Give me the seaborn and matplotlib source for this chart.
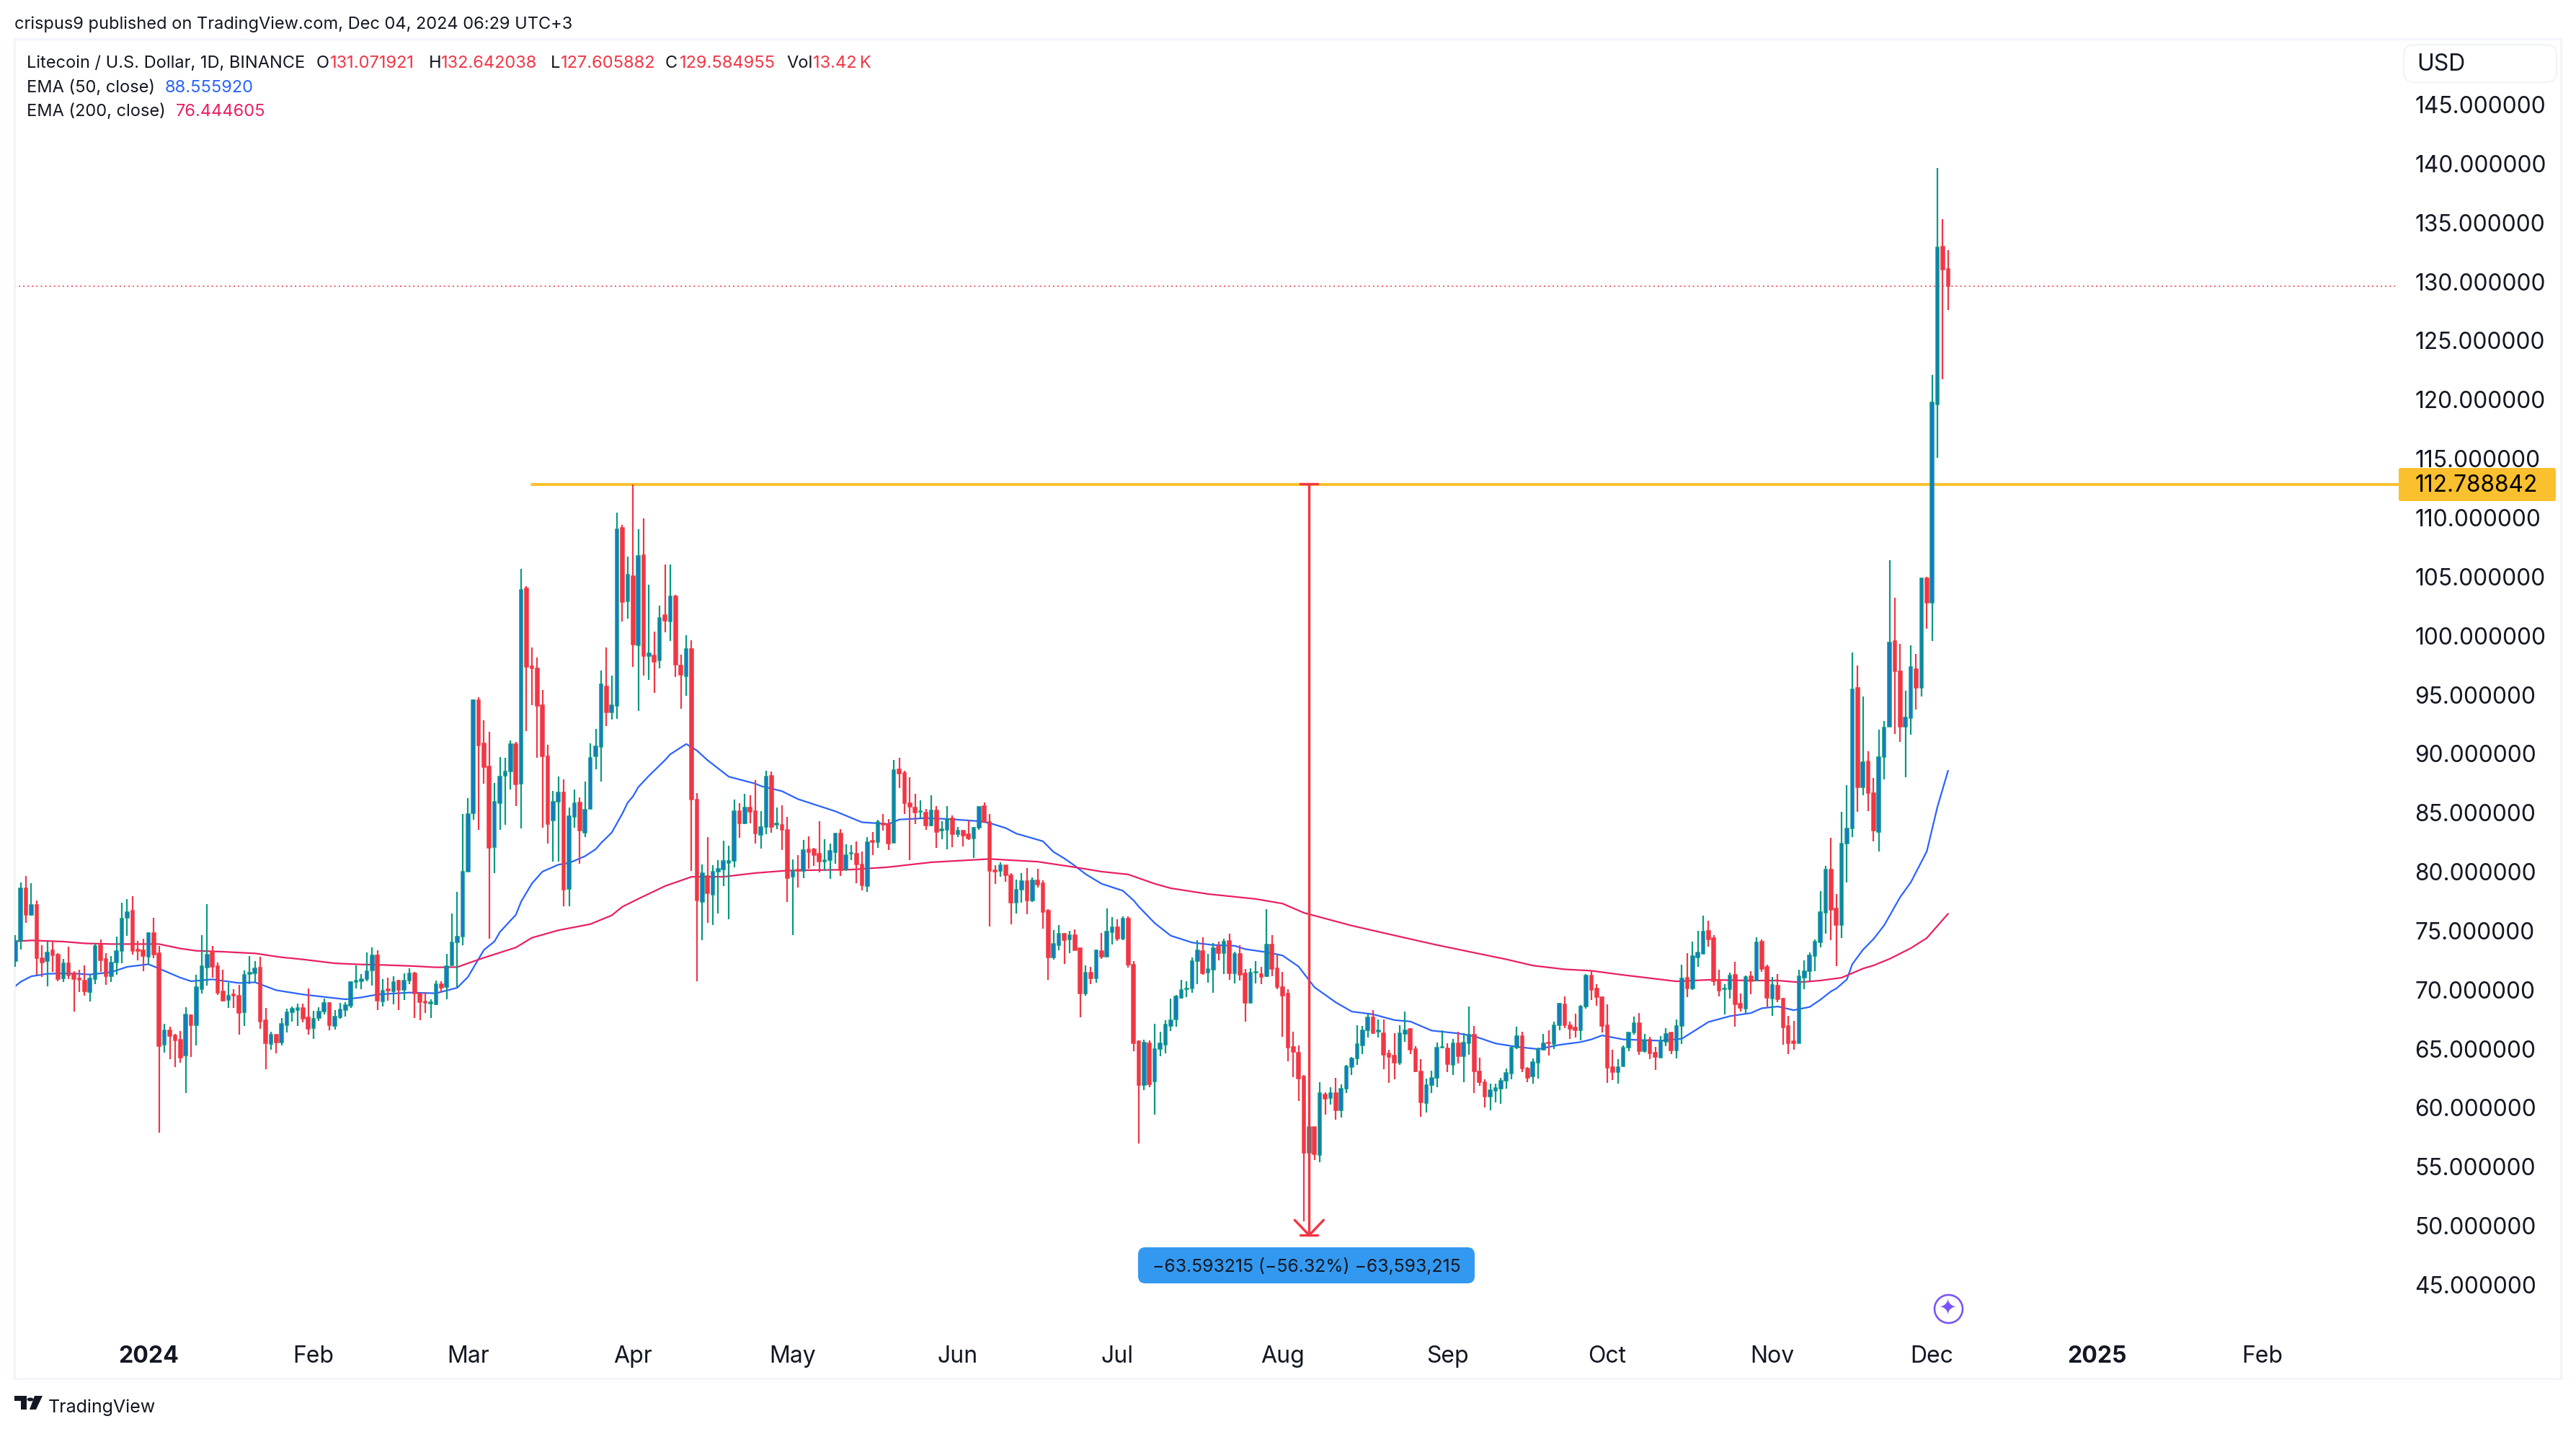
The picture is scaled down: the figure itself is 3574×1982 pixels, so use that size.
import numpy as np
import pandas as pd
import matplotlib
matplotlib.use("Agg")
import matplotlib.pyplot as plt
import matplotlib.dates as mdates
from matplotlib.patches import FancyBboxPatch, Polygon, Rectangle, Circle
import seaborn as sns

# ---------- data ----------
start_date = "2023-12-07"
open_ = [72.41,74.14,78.58,76.36,77.19,72.67,72.41,73.32,73.00,70.98,
72.24,71.39,70.98,70.78,69.82,70.92,73.77,72.61,71.14,72.30,
73.30,76.11,76.68,73.38,73.32,72.81,74.79,73.08,65.32,66.54,
66.13,65.75,64.40,67.82,67.01,70.06,71.90,73.16,72.00,69.86,
69.15,69.60,69.49,68.07,71.35,71.39,71.86,67.42,65.42,66.17,
65.54,67.01,68.09,68.27,68.44,67.64,66.76,67.62,68.13,68.88,
66.95,67.66,68.27,68.64,70.66,70.74,70.88,71.63,72.89,69.02,
70.05,69.86,70.78,69.96,70.78,71.39,69.70,68.98,68.84,68.78,
70.45,70.25,72.04,74.00,74.50,80.00,84.98,94.57,90.85,88.95,
82.09,85.80,88.13,88.51,90.82,87.46,104.00,97.40,97.20,94.13,
89.80,84.33,85.91,86.73,78.55,84.63,85.86,83.31,85.30,89.80,
90.56,95.73,93.48,94.07,109.12,102.90,105.03,99.18,106.84,98.28,
98.31,97.93,101.73,101.20,103.33,97.49,96.58,98.86,86.09,77.46,
79.66,78.05,80.01,80.18,80.74,80.91,85.12,84.10,85.42,85.12,
83.10,83.81,88.13,83.98,83.95,83.57,79.60,80.18,80.04,81.91,
81.88,81.53,80.88,80.97,81.65,83.22,80.18,81.53,81.56,80.62,
78.78,82.64,82.52,84.07,84.04,82.43,88.66,88.37,85.80,85.43,
85.06,85.01,83.89,85.20,83.50,83.54,84.50,83.19,83.47,83.19,
82.84,83.75,85.57,84.19,80.12,80.05,80.54,79.68,77.39,78.50,
79.21,77.53,79.26,79.03,76.71,72.74,73.79,74.77,74.25,74.63,
73.53,69.68,71.45,70.98,73.28,72.78,74.89,75.29,74.30,76.03,
72.13,65.65,61.91,65.47,62.20,65.00,65.37,66.94,67.48,69.32,
70.03,70.10,72.43,73.28,71.45,71.69,73.65,73.13,74.12,71.38,
73.02,71.38,68.88,71.43,71.33,71.15,73.84,71.80,70.21,69.68,
65.14,64.65,62.63,56.15,58.40,55.98,61.15,60.82,61.23,59.78,
61.59,63.47,64.17,65.28,66.59,67.68,66.47,66.35,64.61,64.40,
63.84,66.25,66.66,64.97,63.11,60.40,61.90,62.56,65.09,65.04,
63.64,65.45,64.37,65.45,66.18,63.11,62.14,60.94,61.42,61.64,
62.31,62.92,65.09,66.06,63.35,62.68,63.83,64.90,65.53,65.38,
66.97,68.76,67.02,66.78,66.59,68.55,71.18,70.09,69.37,67.02,
63.47,63.04,63.53,65.07,66.40,67.15,64.81,65.79,64.67,64.26,
65.58,66.38,64.87,66.95,71.02,70.10,72.75,73.06,74.99,74.38,
70.82,70.02,70.06,71.24,68.82,68.39,71.14,70.78,74.07,71.94,
69.25,70.35,69.25,66.91,65.64,65.48,71.04,71.59,72.87,74.03,
76.54,80.18,76.88,75.46,82.36,83.65,95.56,87.12,89.35,86.69,
83.35,89.69,92.26,99.55,96.97,92.26,92.99,97.15,95.56,104.86,
102.76,119.57,132.98,131.07]
close = [74.14,78.58,76.36,77.19,72.69,72.30,73.16,72.92,70.92,72.24,
71.22,70.92,70.86,69.86,70.96,73.69,72.51,71.14,72.30,73.26,
76.03,76.58,73.28,73.28,72.85,74.81,72.98,65.24,66.54,66.09,
65.73,64.26,67.88,67.01,70.21,72.00,73.00,71.96,69.76,69.05,
69.49,69.50,68.03,71.29,71.43,71.80,67.32,65.48,66.17,65.52,
67.11,68.09,68.39,68.44,67.56,66.70,67.52,68.13,68.88,67.01,
67.72,68.33,68.70,70.66,70.78,70.90,71.59,72.89,69.09,69.90,
69.94,70.63,69.96,70.78,71.39,69.70,68.94,68.90,68.94,70.45,
70.17,72.00,74.00,74.48,80.00,84.92,94.57,90.71,88.84,82.00,
85.91,88.07,88.51,90.82,87.40,103.86,97.34,97.25,94.04,89.80,
84.04,85.91,86.73,78.49,84.71,85.80,83.46,85.27,89.68,90.62,
95.88,93.48,94.13,109.03,102.84,105.18,99.24,106.78,98.28,98.51,
97.78,101.52,101.26,103.33,97.55,96.67,98.86,86.09,77.55,79.89,
78.20,80.01,80.24,80.89,80.91,85.12,84.10,85.45,85.07,83.25,
83.81,88.07,83.81,84.10,83.55,79.45,80.07,80.04,81.85,81.65,
81.41,80.83,80.97,81.76,83.22,80.15,81.41,81.62,80.62,78.84,
82.52,82.52,84.24,83.98,82.38,88.63,88.34,85.80,85.52,85.01,
85.13,83.93,85.20,83.37,83.61,84.47,83.19,83.47,83.07,82.81,
83.70,85.48,84.19,80.05,80.03,80.54,79.68,77.39,78.50,79.21,
77.58,79.26,78.91,76.59,72.74,73.88,74.75,74.23,74.65,73.37,
69.68,71.45,70.98,73.37,72.78,74.91,75.29,74.35,76.03,72.13,
65.47,61.91,65.51,62.01,64.95,65.47,67.06,67.41,69.46,69.98,
70.10,72.43,73.32,71.38,71.76,73.55,73.13,74.07,71.38,73.02,
71.26,68.86,71.45,71.50,71.10,73.84,71.78,70.21,69.51,65.12,
64.72,62.50,56.20,58.38,56.03,61.27,60.79,61.23,59.78,61.64,
63.52,64.17,65.38,66.59,67.68,66.35,66.54,64.49,64.32,63.81,
66.30,66.59,64.92,63.09,60.45,61.90,62.56,65.09,65.16,63.71,
65.45,64.37,65.53,66.18,63.11,62.14,60.94,61.52,61.66,62.26,
62.97,65.09,66.06,63.35,62.55,63.88,64.97,65.45,65.45,66.97,
68.83,67.02,66.71,66.59,68.59,71.18,70.00,69.37,66.95,63.40,
63.04,63.47,65.07,66.36,67.15,64.81,65.68,64.63,64.32,65.58,
66.26,64.87,66.91,70.94,70.10,72.85,73.16,74.93,74.28,70.72,
69.92,70.10,71.18,68.78,68.45,71.08,70.74,74.00,71.75,69.31,
70.41,69.19,66.80,65.48,65.48,71.14,71.55,72.89,74.07,76.58,
80.18,76.78,75.50,82.36,83.69,95.48,87.12,89.26,86.65,83.47,
89.69,92.22,99.42,96.97,92.26,93.08,97.36,95.56,104.86,102.76,
119.78,132.90,131.01,129.58]
high = [74.61,79.07,79.63,79.02,77.56,73.77,74.10,74.14,73.10,72.60,
73.63,71.59,71.69,72.06,71.25,73.93,74.24,73.08,72.85,74.48,
77.35,77.68,77.90,74.14,74.30,74.85,76.07,73.73,67.11,66.87,
66.26,66.50,68.50,67.88,71.25,74.61,77.25,73.69,72.30,71.69,
70.57,70.04,70.41,71.63,72.85,72.45,72.81,68.46,66.44,66.17,
67.58,68.39,68.58,68.80,68.80,70.10,68.19,68.50,69.25,68.94,
68.27,68.88,68.94,70.74,72.04,71.33,73.16,73.57,73.32,70.88,
71.02,71.12,70.82,71.39,71.80,71.49,69.76,69.80,69.19,70.78,
70.72,73.02,76.44,78.27,84.92,86.23,94.62,94.80,92.81,91.88,
87.49,89.74,89.68,91.12,91.00,105.67,104.21,99.00,98.16,95.38,
90.77,86.82,88.05,87.84,85.42,86.97,86.29,87.64,90.85,92.08,
97.05,99.00,96.61,110.41,109.39,106.70,112.83,109.03,109.91,104.30,
100.35,102.52,106.02,106.02,103.48,98.36,100.06,99.59,86.67,80.59,
82.93,80.53,80.97,82.64,82.20,86.09,85.80,86.59,86.47,87.78,
85.12,88.57,88.51,85.45,85.65,84.63,81.06,81.41,82.70,83.02,
82.00,84.27,82.73,82.38,83.22,83.60,82.35,82.29,82.58,81.70,
82.96,83.37,84.39,84.86,84.48,89.50,89.65,88.54,87.98,86.60,
86.04,85.29,86.46,85.57,84.28,85.57,84.75,83.79,83.51,84.31,
83.82,85.57,85.87,84.87,80.54,80.78,80.54,79.87,79.33,79.87,
80.33,79.52,80.22,79.26,76.83,75.07,75.47,74.84,75.00,75.12,
73.53,72.06,71.97,73.42,74.82,76.87,76.13,75.99,76.20,76.20,
72.43,65.70,65.77,65.70,67.10,66.43,67.41,69.23,69.56,70.87,
70.73,72.74,74.23,74.42,73.02,73.95,74.07,74.30,74.75,73.20,
73.79,71.73,71.80,72.43,71.92,76.80,74.65,72.90,71.50,70.05,
66.43,65.30,62.80,59.46,58.40,62.14,61.30,61.71,62.56,62.00,
63.64,64.32,66.98,66.90,67.99,68.30,67.51,67.51,64.90,66.30,
67.02,68.16,66.73,65.21,64.12,62.48,63.16,65.50,66.54,65.45,
65.86,66.42,66.30,68.55,66.90,64.25,62.39,62.02,62.07,62.56,
63.33,65.28,66.85,66.42,63.45,64.17,65.09,66.25,66.59,67.27,
68.88,69.41,67.27,67.96,68.71,71.30,71.61,70.48,69.41,68.74,
64.91,64.10,65.28,66.40,67.72,68.03,66.26,66.01,65.18,66.05,
66.74,66.38,67.48,72.10,73.08,74.07,74.99,76.27,75.83,74.60,
71.69,70.47,71.43,72.36,69.66,71.18,71.57,74.44,74.24,72.10,
71.08,71.33,69.31,67.76,67.35,71.69,72.49,73.16,74.24,78.35,
80.52,82.87,78.10,85.06,87.33,98.56,97.49,94.83,90.20,87.93,
92.05,92.78,106.41,103.19,99.29,95.35,99.16,98.43,104.86,104.99,
122.09,139.63,135.30,132.64]
low = [71.96,73.42,75.66,76.30,71.25,71.08,70.31,71.49,70.74,70.68,
70.92,68.17,69.82,69.49,69.03,70.47,71.49,70.43,70.68,71.29,
72.26,74.58,72.96,72.51,71.59,72.10,72.67,57.91,64.67,64.10,
63.45,63.81,61.27,64.32,65.28,69.70,70.37,71.02,69.56,68.99,
68.48,68.48,66.22,66.95,70.47,70.57,66.71,63.28,64.91,64.63,
65.28,66.40,67.32,66.91,67.25,66.22,65.85,67.38,67.93,66.58,
66.64,67.52,67.72,68.48,70.10,70.06,70.74,70.37,68.27,68.60,
69.09,68.78,68.27,69.15,70.47,67.62,67.42,68.03,67.62,68.70,
69.76,69.21,72.04,70.21,73.80,80.00,84.39,83.55,87.46,74.34,
79.89,83.55,83.98,86.97,85.56,83.69,91.93,94.13,89.65,83.75,
82.38,80.83,80.83,77.10,77.10,83.75,80.68,82.93,85.30,88.66,
87.64,92.37,92.87,92.96,101.20,101.43,97.34,93.63,96.61,96.23,
95.15,97.25,100.27,99.53,96.47,93.78,94.92,80.04,70.74,74.19,
75.65,75.51,76.44,78.78,76.00,80.39,82.87,84.04,84.10,82.38,
81.94,83.16,83.31,83.60,81.85,77.46,74.63,78.63,79.45,80.24,
80.48,79.95,80.04,79.42,80.68,79.66,80.09,80.97,79.01,78.43,
78.31,81.41,81.99,83.46,81.85,82.43,87.10,84.92,81.00,84.05,
84.54,83.54,83.84,82.02,82.77,81.92,82.09,82.91,82.13,82.67,
81.15,83.56,84.19,75.36,78.98,79.59,79.14,75.54,76.45,77.39,
76.41,77.46,78.63,75.19,70.87,72.55,73.37,72.20,73.13,73.37,
67.69,69.47,70.49,70.61,72.62,72.78,73.84,74.14,74.23,71.85,
64.79,57.00,61.52,61.73,59.39,64.37,64.63,66.52,66.87,69.25,
69.39,69.74,70.49,71.26,70.61,69.74,72.48,71.33,70.84,70.56,
70.80,67.29,68.88,70.56,70.45,71.10,71.15,70.05,66.00,63.95,
62.62,60.56,50.36,56.10,55.55,55.38,59.41,60.26,58.98,59.17,
61.27,62.80,63.64,64.54,65.98,66.25,65.98,63.26,62.12,62.43,
63.64,65.57,64.56,63.04,59.25,59.63,61.27,61.71,65.02,63.04,
62.80,63.76,62.19,64.49,61.27,61.83,60.02,59.78,60.45,60.31,
61.64,62.43,64.97,63.04,62.19,62.07,62.48,64.85,64.41,64.97,
66.59,66.73,65.86,65.94,65.70,68.42,69.13,68.64,66.37,62.12,
62.37,62.06,63.49,64.77,66.19,64.50,64.67,64.12,63.20,64.26,
65.24,64.57,64.20,65.42,69.39,70.00,71.96,73.06,73.67,70.37,
69.45,67.92,69.25,66.87,68.13,68.03,69.62,70.74,71.53,68.47,
67.78,68.94,65.34,64.56,64.93,65.48,70.06,70.78,71.59,73.59,
74.75,74.20,72.00,74.40,79.06,82.92,85.06,86.47,85.15,82.57,
81.72,87.80,92.26,91.70,90.98,87.98,91.62,93.72,94.83,100.58,
99.55,115.06,121.71,127.60]

ema50_idx = [0,1,3,6,9,12,14,18,21,25,27,31,33,37,42,45,49,54,58,62,65,68,74,79,83,85,88,90,91,94,95,97,99,
             102,104,107,109,110,112,114,115,116,117,119,122,123,126,128,130,134,139,140,144,147,154,159,164,
             166,171,175,181,183,186,188,193,195,197,199,201,204,208,210,211,214,217,221,225,229,231,235,238,
             241,244,248,251,255,259,262,266,271,274,278,282,286,290,294,296,298,302,309,313,318,322,326,328,
             331,334,337,339,341,342,344,345,347,349,351,354,356,359,361,363]
ema50_val = [70.31,70.67,71.14,71.35,71.39,71.35,71.29,71.49,71.94,72.16,71.79,71.02,70.72,70.88,70.57,70.63,
             69.96,69.60,69.39,69.19,69.35,69.60,69.76,69.70,70.17,71.08,73.37,74.10,74.89,76.35,77.47,78.99,
             80.01,80.60,80.74,81.32,81.91,82.43,83.31,84.92,85.85,86.38,87.17,88.13,89.45,89.95,90.82,90.27,
             89.45,88.05,87.46,87.26,86.82,86.15,85.12,84.19,84.04,84.42,84.54,84.47,84.28,84.12,83.70,83.23,
             82.58,81.67,81.13,80.50,79.80,78.98,78.39,77.58,77.04,75.64,74.58,74.00,73.79,73.72,73.44,73.18,
             72.90,71.97,70.21,68.93,68.15,67.92,67.43,67.31,66.54,66.30,66.06,65.45,65.16,64.97,65.33,65.57,
             65.79,66.13,65.79,65.68,65.85,67.27,67.76,68.03,68.43,68.58,68.27,68.54,69.15,69.86,70.10,70.88,
             72.16,73.38,74.30,75.46,77.85,79.10,81.72,85.49,88.56]
ema200_idx = [0,3,9,13,18,27,31,34,39,45,50,54,60,65,69,75,79,83,85,88,90,94,97,102,108,112,114,117,122,127,
              133,139,145,157,164,172,183,192,199,204,209,214,217,224,233,238,242,251,261,267,273,280,285,291,
              296,302,307,312,318,326,331,335,339,343,347,349,352,356,359,363]
ema200_val = [74.10,74.18,74.08,73.93,73.87,73.87,73.49,73.30,73.22,73.08,72.75,72.57,72.24,72.14,72.10,72.00,
              71.90,71.92,72.24,72.71,73.00,73.58,74.40,75.04,75.56,76.30,77.03,77.70,78.78,79.57,79.57,79.89,
              80.10,80.18,80.39,80.80,81.08,80.85,80.38,80.01,79.77,78.98,78.60,78.11,77.69,77.30,76.52,75.43,
              74.40,73.79,73.23,72.58,72.05,71.73,71.61,71.25,70.98,70.71,70.84,70.78,70.78,70.63,70.78,71.02,
              71.79,72.06,72.61,73.52,74.38,76.44]

price_ticks = [45,50,55,60,65,70,75,80,85,90,95,100,105,110,115,120,125,130,135,140,145]
month_dates = ["2024-01-01","2024-02-01","2024-03-01","2024-04-01","2024-05-01","2024-06-01","2024-07-01",
               "2024-08-01","2024-09-01","2024-10-01","2024-11-01","2024-12-01","2025-01-01","2025-02-01"]
month_labels = ["2024","Feb","Mar","Apr","May","Jun","Jul","Aug","Sep","Oct","Nov","Dec","2025","Feb"]
last_close = 129.584955
resistance = 112.788842
measure_low = 49.2
resistance_start = "2024-03-13"
measure_date = "2024-08-06"
last_price_end = "2025-02-26"
icon_date = "2024-12-04"
icon_price = 43.0

# ---------- style ----------
W, H = 3574, 1982
DPI = 100
PX = 72 / DPI
INK = "#131722"
GREEN = "#089981"
UPFILL = "#1976d2"
RED = "#f23645"
BLUE = "#2962ff"
PINK = "#e91e63"
ORANGE = "#fbc02d"
FRAME = "#f0f3fa"
PURPLE = "#7b52fa"

sns.set_theme(style="white")
plt.rcParams["font.family"] = ["Inter", "DejaVu Sans"]

fig = plt.figure(figsize=(W / DPI, H / DPI), dpi=DPI, facecolor="white")
ax = fig.add_axes([20 / W, (H - 1912) / H, 3533 / W, 1858 / H])

dates = pd.date_range(start_date, periods=len(open_), freq="D")
xnum = mdates.date2num(dates)
o, h, l, c = map(np.array, (open_, high, low, close))
up = c >= o

# EMAs via seaborn
ema50 = pd.DataFrame({"x": xnum[ema50_idx], "y": ema50_val})
ema200 = pd.DataFrame({"x": xnum[ema200_idx], "y": ema200_val})
sns.lineplot(data=ema50, x="x", y="y", ax=ax, color=BLUE, lw=2.2 * PX, errorbar=None, zorder=2)
sns.lineplot(data=ema200, x="x", y="y", ax=ax, color=PINK, lw=2.2 * PX, errorbar=None, zorder=2)

# Axis scales
x_res = mdates.date2num(pd.Timestamp(resistance_start))
x_end = mdates.date2num(pd.Timestamp(last_price_end))
x_meas = mdates.date2num(pd.Timestamp(measure_date))
x0_jan = mdates.date2num(pd.Timestamp("2024-01-01"))
px_day = 7.387
ax.set_xlim(x0_jan - 186 / px_day, x0_jan + 3347 / px_day)
px_unit = 16.37
ax.set_ylim(145 - 1767 / px_unit, 145 + 91 / px_unit)

# Horizontal levels
ax.plot([x_res, x_end + 0.5], [resistance, resistance], color=ORANGE, lw=4 * PX, solid_capstyle="round", zorder=2)
ax.plot([ax.get_xlim()[0], x_end], [last_close, last_close], color=RED, lw=1.6 * PX,
        ls=(0, (1.2, 2.6)), zorder=2)

# Candles
ax.vlines(xnum[up], l[up], h[up], color=GREEN, lw=2.2 * PX, zorder=3)
ax.vlines(xnum[~up], l[~up], h[~up], color=RED, lw=2.2 * PX, zorder=3)
bw = 4.6 / px_day
ax.bar(xnum[up], (c - o)[up], bottom=o[up], width=bw, color=UPFILL, edgecolor=GREEN, lw=1.5 * PX, zorder=4)
ax.bar(xnum[~up], (c - o)[~up], bottom=o[~up], width=bw, color=RED, edgecolor=RED, lw=1.5 * PX, zorder=4)

# Measure arrow
ax.plot([x_meas, x_meas], [resistance + 0.1, measure_low], color=RED, lw=3.4 * PX, zorder=5, solid_capstyle="butt")
cap = 12 / px_day
ax.plot([x_meas - cap, x_meas + cap], [resistance + 0.1] * 2, color=RED, lw=3.4 * PX, zorder=5)
ax.plot([x_meas - cap, x_meas + cap], [measure_low, measure_low], color=RED, lw=3.4 * PX, zorder=5)
head_w = 20 / px_day
head_h = 21 / px_unit
ax.plot([x_meas - head_w, x_meas, x_meas + head_w],
        [measure_low + head_h, measure_low, measure_low + head_h],
        color=RED, lw=3.4 * PX, zorder=5, solid_capstyle="round", solid_joinstyle="miter")

# Axes frame and ticks
for s in ax.spines.values():
    s.set_color(FRAME)
    s.set_linewidth(2.6 * PX)
ax.set_xlabel("")
ax.set_ylabel("")
ax.yaxis.tick_right()
ax.set_yticks(price_ticks)
ax.set_yticklabels([f"{p:.6f}" for p in price_ticks])
ax.tick_params(axis="y", length=0, pad=-203 * PX, labelsize=31.6 * PX, labelcolor=INK)
tick_x = mdates.date2num(pd.to_datetime(month_dates))
ax.set_xticks(tick_x)
ax.set_xticklabels(month_labels)
ax.tick_params(axis="x", length=0, pad=-46 * PX, labelsize=32 * PX, labelcolor=INK)
for t, lab in zip(ax.get_xticklabels(), month_labels):
    if lab.isdigit():
        t.set_fontweight("bold")
ax.grid(False)


def tx(x, y, s, **kw):
    kw.setdefault("va", "center")
    kw.setdefault("color", INK)
    kw.setdefault("fontsize", 23.6 * PX)
    return fig.text(x / W, 1 - y / H, s, **kw)


# Header
tx(20, 34, "crispus9 published on TradingView.com, Dec 04, 2024 06:29 UTC+3")
y1 = 88
tx(37, y1, "Litecoin / U.S. Dollar, 1D, BINANCE")
for xo, lab, xv, val in [(439, "O", 458, "131.071921"), (595, "H", 612, "132.642038"),
                          (764, "L", 778, "127.605882"), (923, "C", 943, "129.584955"),
                          (1091, "Vol", 1128, "13.42\u2009K")]:
    tx(xo, y1, lab)
    tx(xv, y1, val, color=RED)
tx(37, 122, "EMA (50, close)")
tx(229, 122, "88.555920", color=BLUE)
tx(37, 155, "EMA (200, close)")
tx(244, 155, "76.444605", color=PINK)

# USD box
fig.add_artist(FancyBboxPatch((3335 / W, 1 - 114 / H), 212 / W, 52 / H, transform=fig.transFigure,
                              boxstyle="round,pad=0,rounding_size=0.004", mutation_aspect=W / H,
                              fc="white", ec=FRAME, lw=2 * PX, zorder=6))
tx(3353, 90, "USD", fontsize=32 * PX, zorder=7)

# Resistance price label
fig.add_artist(FancyBboxPatch((3328 / W, 1 - 695 / H), 218 / W, 46 / H, transform=fig.transFigure,
                              boxstyle="round,pad=0,rounding_size=0.0008", mutation_aspect=W / H,
                              fc=ORANGE, ec=ORANGE, lw=0, zorder=6))
tx(3350, 673.5, f"{resistance:.6f}", fontsize=31.6 * PX, color="#000000", zorder=7)

# Measure label
fig.add_artist(FancyBboxPatch((1579 / W, 1 - 1780 / H), 467 / W, 50 / H, transform=fig.transFigure,
                              boxstyle="round,pad=0,rounding_size=0.0028", mutation_aspect=W / H,
                              fc="#3399f0", ec="none", zorder=6))
tx(1812.5, 1757.5, "\u221263.593215 (\u221256.32%) \u221263,593,215", ha="center", fontsize=24.8 * PX, zorder=7)

# Purple event icon
x_ic = mdates.date2num(pd.Timestamp(icon_date))
ax.scatter([x_ic], [icon_price], s=(39 * PX) ** 2, facecolor="white", edgecolor=PURPLE, lw=2.6 * PX, zorder=6)
ax.text(x_ic, icon_price, "\u2726", family="DejaVu Sans", color=PURPLE, fontsize=30 * PX, ha="center",
        va="center", zorder=7)

# Footer logo
fig.add_artist(Rectangle((20 / W, 1 - 1943 / H), 17 / W, 7 / H, transform=fig.transFigure, fc=INK, ec="none"))
fig.add_artist(Rectangle((29 / W, 1 - 1955 / H), 8 / W, 19 / H, transform=fig.transFigure, fc=INK, ec="none"))
fig.add_artist(Circle((42 / W, 1 - 1941 / H), 4.5 / W, transform=fig.transFigure, fc=INK, ec="none"))
fig.add_artist(Polygon([(48 / W, 1 - 1936 / H), (59 / W, 1 - 1936 / H), (50 / W, 1 - 1955 / H), (41 / W, 1 - 1955 / H)],
                       closed=True, transform=fig.transFigure, fc=INK, ec="none"))
tx(67, 1952, "TradingView", fontsize=25 * PX)

fig.savefig("out.png", dpi=DPI, facecolor="white")
